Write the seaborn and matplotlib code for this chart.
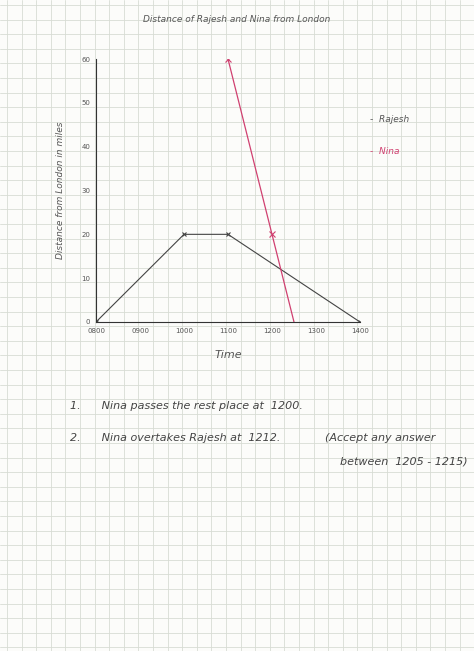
import numpy as np
import matplotlib.pyplot as plt
import seaborn as sns

# data
rajesh_time = [8, 10, 11, 14]
rajesh_dist = [0, 20, 20, 0]
nina_time = [11, 12, 12.5]
nina_dist = [60, 20, 0]
tick_hours = [8, 9, 10, 11, 12, 13, 14]
tick_labels = ["0800", "0900", "1000", "1100", "1200", "1300", "1400"]
y_ticks = [0, 10, 20, 30, 40, 50, 60]

sns.set_style("white")
ink = "#555555"
red = "#d04070"

fig = plt.figure(figsize=(4.74, 6.51), dpi=100)
fig.patch.set_facecolor("#fcfcfa")

# graph paper background
bg = fig.add_axes([0, 0, 1, 1])
bg.set_xlim(0, 474)
bg.set_ylim(651, 0)
for gx in np.arange(7, 474, 14.6):
    bg.axvline(gx, color="#d8dcd4", lw=0.6)
for gy in np.arange(5, 651, 14.6):
    bg.axhline(gy, color="#d8dcd4", lw=0.6)
bg.axis("off")

ax = fig.add_axes([96 / 474, 1 - 322 / 651, 264 / 474, 263 / 651])
ax.patch.set_alpha(0)
sns.lineplot(x=rajesh_time, y=rajesh_dist, ax=ax, color="#444444", lw=0.8)
ax.plot(rajesh_time, rajesh_dist, "x", color="#444444", markersize=3, mew=0.8)
sns.lineplot(x=nina_time, y=nina_dist, ax=ax, color=red, lw=0.9)
ax.plot(nina_time[:2], nina_dist[:2], "x", color=red, markersize=4, mew=0.8)
ax.set_xlim(8, 14)
ax.set_ylim(0, 60)
ax.set_xticks(tick_hours)
ax.set_xticklabels(tick_labels, fontsize=5, color=ink)
ax.set_yticks(y_ticks)
ax.set_yticklabels(y_ticks, fontsize=5, color=ink)
for s in ["top", "right"]:
    ax.spines[s].set_visible(False)
for s in ["left", "bottom"]:
    ax.spines[s].set_color("#333333")
    ax.spines[s].set_linewidth(0.8)
ax.tick_params(length=2, width=0.6, pad=2)
ax.set_xlabel("Time", fontsize=8, color=ink, style="italic", labelpad=12)
ax.set_ylabel("Distance from London in miles", fontsize=6.5, color=ink,
              style="italic", labelpad=12)

fig.text(0.5, 1 - 20 / 651, "Distance of Rajesh and Nina from London",
         ha="center", va="center", fontsize=6.5, color=ink, style="italic")
fig.text(370 / 474, 1 - 119 / 651, "-  Rajesh", fontsize=6.5, color=ink,
         style="italic", va="center")
fig.text(370 / 474, 1 - 152 / 651, "-  Nina", fontsize=6.5, color=red,
         style="italic", va="center")

fig.text(70 / 474, 1 - 406 / 651, "1.      Nina passes the rest place at  1200.",
         fontsize=8, color="#444444", style="italic", va="center")
fig.text(70 / 474, 1 - 438 / 651, "2.      Nina overtakes Rajesh at  1212.",
         fontsize=8, color="#444444", style="italic", va="center")
fig.text(325 / 474, 1 - 438 / 651, "(Accept any answer", fontsize=8,
         color="#444444", style="italic", va="center")
fig.text(340 / 474, 1 - 461 / 651, "between  1205 - 1215)", fontsize=8,
         color="#444444", style="italic", va="center")

fig.savefig("out.png", dpi=100, facecolor=fig.get_facecolor())
